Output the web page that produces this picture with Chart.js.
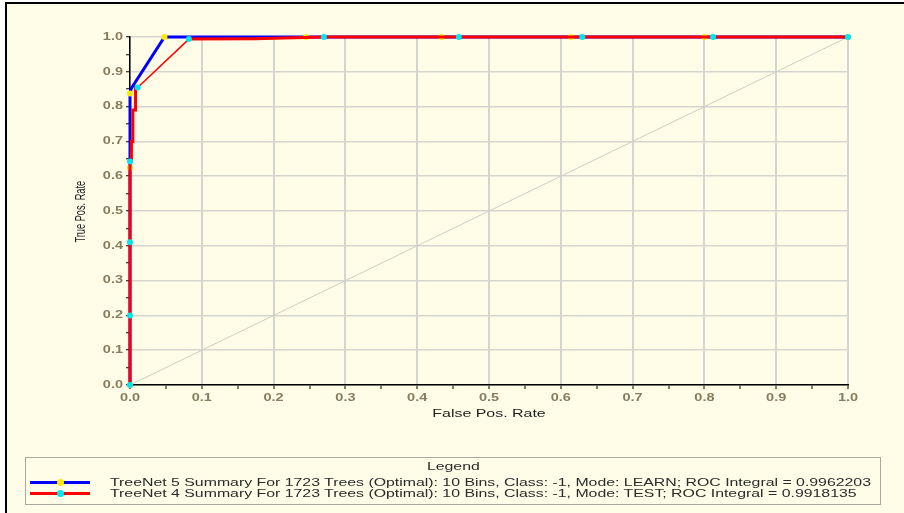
<!DOCTYPE html>
<html>
<head>
<meta charset="utf-8">
<script src="https://cdn.jsdelivr.net/npm/chart.js@4.4.1/dist/chart.umd.min.js"></script>
<style>
html,body{margin:0;padding:0;background:#ffffff;width:904px;height:513px;overflow:hidden;}
#panel{position:absolute;left:5px;top:2px;width:1000px;height:700px;border-left:2px solid #000;border-top:2px solid #000;background:#fffde8;}
#wrap{position:absolute;left:0;top:0;width:904px;height:513px;}
#legend{position:absolute;left:25px;top:457px;width:856px;height:48px;border:1px solid #a9a9a2;box-sizing:border-box;font-family:'Liberation Sans',Arial,sans-serif;font-size:11px;color:#2a2a2a;}
#legend .ttl{position:absolute;left:0;top:2px;width:100%;text-align:center;line-height:13px;}
#legend .ttl span{display:inline-block;transform-origin:50% 50%;}
#legend .row{position:absolute;left:0;height:12px;width:100%;}
#legend .smp{position:absolute;left:4px;top:4px;width:60px;height:3px;}
#legend .dot{position:absolute;left:27px;top:-2px;width:7px;height:7px;border-radius:50%;}
#legend .txt{position:absolute;left:84px;top:-1px;white-space:nowrap;line-height:13px;transform-origin:0 50%;}
</style>
</head>
<body>
<div id="panel"></div>
<div id="wrap"><canvas id="c"></canvas></div>
<div id="legend"></div>
<script>
// ---- data ----
const seriesLabels = [
  'TreeNet 5 Summary For 1723 Trees (Optimal): 10 Bins, Class: -1, Mode: LEARN; ROC Integral = 0.9962203',
  'TreeNet 4 Summary For 1723 Trees (Optimal): 10 Bins, Class: -1, Mode: TEST; ROC Integral = 0.9918135'
];
const fprLearn  = [0, 0,    0,    0,     0,     0.002, 0.048, 0.245, 0.434, 0.614, 0.800, 1.0];
const tprLearn  = [0, 0.20, 0.41, 0.624, 0.838, 0.853, 1.0,   1.0,   1.0,   1.0,   1.0,   1.0];
const markLearn = [1, 1,    1,    1,     1,     0,     1,     1,     1,     1,     1,     1];

const fprTest  = [0, 0,    0,    0,     0.002, 0.002, 0.004, 0.004, 0.0077, 0.0077, 0.0107, 0.082, 0.174, 0.270, 0.458, 0.630, 0.812, 1.0];
const tprTest  = [0, 0.20, 0.41, 0.642, 0.642, 0.70,  0.70,  0.79,  0.79,   0.855,  0.855,  0.994, 0.995, 1.0,   1.0,   1.0,   1.0,   1.0];
const markTest = [1, 1,    1,    1,     0,     0,     0,     0,     0,      0,      1,      1,     0,     1,     1,     1,     1,     1];

const diagX = [0, 1];
const diagY = [0, 1];

const axisMin = 0, axisMax = 1, minorStep = 0.05;
const xTitle = 'False Pos. Rate';
const yTitle = 'True Pos. Rate';
const legendTitle = 'Legend';

// ---- styles ----
const tickFont = {family: "'Liberation Sans', Arial, sans-serif", size: 10, weight: 'bold'};
const tickColor = '#877b5f';
const gridColor = '#d5d5d0';
const isMajor = v => Math.round(v / minorStep) % 2 === 0;
const pts = (xs, ys) => xs.map((x, i) => ({x: x, y: ys[i]}));

function wrapLabels(scale, k) {
  const orig = scale.drawLabels;
  scale.drawLabels = function (area) {
    const ctx = this.ctx;
    const f = ctx.fillText;
    ctx.fillText = function (t, x, y) {
      this.save(); this.translate(x, y); this.scale(k, 1);
      f.call(this, t, 0, 0);
      this.restore();
    };
    try { orig.call(this, area); } finally { ctx.fillText = f; }
  };
}

const stretchPlugin = {
  id: 'stretchTexts',
  beforeDraw(chart) {
    const xs = chart.scales.x, ys = chart.scales.y;
    if (!xs._wrapped) {
      const orig = xs.drawTitle;
      xs.drawTitle = function () {
        const ctx = this.ctx, cx = (this.left + this.right) / 2;
        ctx.save(); ctx.translate(cx, 0); ctx.scale(1.45, 1); ctx.translate(-cx, 0);
        orig.call(this); ctx.restore();
      };
      wrapLabels(xs, 1.45);
      xs._wrapped = true;
    }
    if (!ys._wrapped) {
      const orig = ys.drawTitle;
      ys.drawTitle = function () {
        const ctx = this.ctx, cy = (this.top + this.bottom) / 2 + 2;
        ctx.save(); ctx.translate(0, cy); ctx.scale(1, 0.66); ctx.translate(0, -cy);
        orig.call(this); ctx.restore();
      };
      wrapLabels(ys, 1.45);
      ys._wrapped = true;
    }
  }
};

const chart = new Chart(document.getElementById('c'), {
  type: 'line',
  data: {
    datasets: [
      {
        label: seriesLabels[1],
        data: pts(fprTest, tprTest),
        borderColor: '#ff0000',
        borderWidth: 3,
        pointRadius: markTest.map(m => m ? 3 : 0),
        pointBackgroundColor: '#00e6ee',
        pointBorderWidth: 0,
        pointStyle: 'circle',
        segment: { borderWidth: c => (c.p0DataIndex === 10 ? 1.5 : 3) },
        order: 1, clip: 6, tension: 0
      },
      {
        label: seriesLabels[0],
        data: pts(fprLearn, tprLearn),
        borderColor: '#0000ff',
        borderWidth: 3,
        pointRadius: markLearn.map(m => m ? 3 : 0),
        pointBackgroundColor: '#ffe800',
        pointBorderWidth: 0,
        pointStyle: 'circle',
        order: 2, clip: 6, tension: 0
      },
      {
        label: '',
        data: pts(diagX, diagY),
        borderColor: '#cdcdc8',
        borderWidth: 1,
        pointRadius: 0,
        order: 3, tension: 0
      }
    ]
  },
  options: {
    responsive: true,
    maintainAspectRatio: false,
    animation: false,
    devicePixelRatio: 1,
    layout: {padding: {left: 0, top: 37, right: 56, bottom: 83}},
    plugins: {legend: {display: false}, tooltip: {enabled: false}},
    scales: {
      x: {
        type: 'linear', min: axisMin, max: axisMax,
        afterFit: s => { s.height = 45; },
        ticks: {
          stepSize: minorStep, autoSkip: false, maxRotation: 0, padding: 3,
          font: tickFont, color: tickColor,
          callback: v => isMajor(v) ? v.toFixed(1) : ''
        },
        grid: {
          color: c => (c.tick && isMajor(c.tick.value)) ? gridColor : 'rgba(0,0,0,0)',
          lineWidth: 2, tickColor: '#000', tickLength: 4, tickWidth: 1
        },
        border: {color: '#000', width: 1.5},
        title: {
          display: true, text: xTitle, color: '#222',
          font: {family: "'Liberation Sans', Arial, sans-serif", size: 11},
          padding: {top: 0, bottom: 9}
        }
      },
      y: {
        type: 'linear', min: axisMin, max: axisMax,
        afterFit: s => { s.width = 130; },
        ticks: {
          stepSize: minorStep, autoSkip: false, padding: 3,
          font: tickFont, color: tickColor,
          callback: v => isMajor(v) ? v.toFixed(1) : ''
        },
        grid: {
          color: c => (c.tick && isMajor(c.tick.value)) ? gridColor : 'rgba(0,0,0,0)',
          lineWidth: 1.5, tickColor: '#000', tickLength: 4, tickWidth: 1
        },
        border: {color: '#000', width: 1.5},
        title: {
          display: true, text: yTitle, color: '#222',
          font: {family: "'Liberation Sans', Arial, sans-serif", size: 14},
          padding: {top: 73, bottom: 0}
        }
      }
    }
  },
  plugins: [stretchPlugin]
});

// ---- HTML legend built from the chart's datasets ----
(function buildLegend() {
  const box = document.getElementById('legend');
  const ttl = document.createElement('div');
  ttl.className = 'ttl';
  const ts = document.createElement('span');
  ts.textContent = legendTitle;
  ttl.appendChild(ts);
  box.appendChild(ttl);
  const items = chart.data.datasets.filter(d => d.label).sort((a, b) => b.order - a.order);
  const rowTops = [19, 30];
  const spans = [];
  items.forEach((d, i) => {
    const row = document.createElement('div');
    row.className = 'row';
    row.style.top = rowTops[i] + 'px';
    const smp = document.createElement('div');
    smp.className = 'smp';
    smp.style.background = d.borderColor;
    const dot = document.createElement('div');
    dot.className = 'dot';
    dot.style.background = d.pointBackgroundColor;
    smp.appendChild(dot);
    const txt = document.createElement('span');
    txt.className = 'txt';
    txt.textContent = d.label;
    row.appendChild(smp);
    row.appendChild(txt);
    box.appendChild(row);
    spans.push(txt);
  });
  const w0 = spans[0].getBoundingClientRect().width;
  const k = w0 > 0 ? 761 / w0 : 1.38;
  spans.forEach(s => { s.style.transform = 'scaleX(' + k + ')'; });
  ts.style.transform = 'scaleX(' + k + ')';
})();
</script>
</body>
</html>
